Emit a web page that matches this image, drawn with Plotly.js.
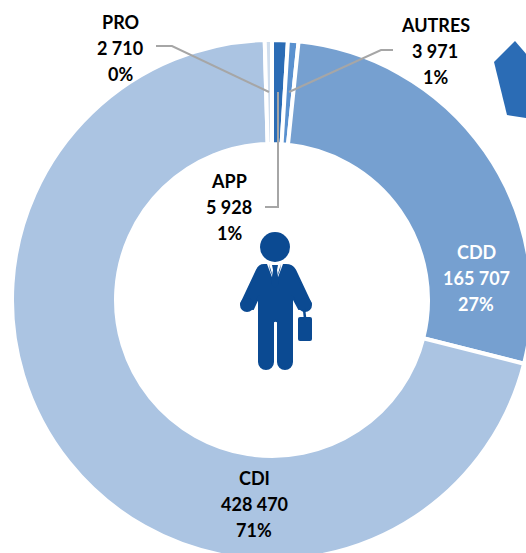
<!DOCTYPE html>
<html>
<head>
<meta charset="utf-8">
<script src="https://cdn.plot.ly/plotly-3.0.1.min.js"></script>
<style>html,body{margin:0;padding:0;background:#fff;width:526px;height:553px;overflow:hidden}#c{width:540px;height:560px}</style>
</head>
<body>
<div id="c"></div>
<script>
var categories = ["APP", "AUTRES", "CDD", "CDI", "PRO"];
var values = [5928, 3971, 165707, 428470, 2710];
var colors = ["#2b6cb5", "#5a91cf", "#76a0d0", "#abc4e2", "#cfdded"];
var textColors = ["#000000", "#000000", "#ffffff", "#000000", "#000000"];
var labelX = [229, 435, 476, 254, 120];
var labelY = [181, 25, 252, 478, 22];
var lineGap = 26;

var W = 540, H = 560;
var cx = 272, cy = 300, R = 260;
function px(x){ return x / W; }
function py(y){ return 1 - y / H; }
function fmt(v){ return String(v).replace(/\B(?=(\d{3})+$)/g, " "); }
var total = values.reduce(function(a,b){ return a+b; }, 0);

var annotations = [];
categories.forEach(function(c, i){
  [c, fmt(values[i]), Math.round(values[i] / total * 100) + "%"].forEach(function(t, k){
    annotations.push({
      text: t, xref: "paper", yref: "paper", showarrow: false,
      x: px(labelX[i]), y: py(labelY[i] + k * lineGap),
      xanchor: "center", yanchor: "middle",
      font: {family: "Lato, Carlito, sans-serif", size: 18, color: textColors[i], weight: 700}
    });
  });
});

function leader(pts){
  return {
    type: "path", xref: "paper", yref: "paper",
    path: pts.map(function(p, i){ return (i ? "L" : "M") + px(p[0]) + " " + py(p[1]); }).join(" "),
    line: {color: "#a6a6a6", width: 2}
  };
}
var shapes = [
  leader([[156,46],[172,46],[269,92]]),
  leader([[393,50],[381,50],[289,92]]),
  leader([[278,92],[278,207],[265,207]]),
  {type: "path", xref: "paper", yref: "paper", layer: "below",
   path: [[515,41],[494,62],[507,115],[540,120],[540,70]].map(function(p,i){ return (i?"L":"M")+px(p[0])+" "+py(p[1]); }).join(" ") + " Z",
   fillcolor: "#2b6cb5", line: {width: 0}}
];

var B = "#0b4a92";
var icon = '<svg xmlns="http://www.w3.org/2000/svg" width="85" height="155" viewBox="235 225 85 155">' +
  '<circle cx="275" cy="247" r="15" fill="'+B+'"/>' +
  '<path d="M264 265 Q259 265 257 270 L241 304 L253 309 L259 296 L259 362 a7 7 0 0 0 14 0 L273 322 a3 3 0 0 1 5 0 L278 362 a7 7 0 0 0 14 0 L292 296 L299 309 L311 304 L295 270 Q292 265 286 265 Z" fill="'+B+'" stroke="'+B+'" stroke-linejoin="round" stroke-width="2"/>' +
  '<circle cx="247" cy="305" r="7" fill="'+B+'"/>' +
  '<circle cx="305" cy="305" r="7" fill="'+B+'"/>' +
  '<path d="M267 264 L275 285 L283 264 Z" fill="#fff"/>' +
  '<path d="M269 264 L274 280 L270 270 Z M281 264 L276 280 L280 270 Z" fill="'+B+'"/>' +
  '<path d="M272 265 L278 265 L277 270 L279 284 L275 288 L271 284 L273 270 Z" fill="'+B+'"/>' +
  '<path d="M304 309 L305 318" stroke="'+B+'" stroke-width="2.5" fill="none"/>' +
  '<rect x="298" y="317" width="14" height="24" rx="2" fill="'+B+'"/>' +
  '</svg>';

Plotly.newPlot("c", [{
  type: "pie",
  labels: categories,
  values: values,
  sort: false,
  direction: "clockwise",
  rotation: 0,
  hole: 0.6,
  textinfo: "none",
  hoverinfo: "label+value+percent",
  marker: {colors: colors, line: {color: "#ffffff", width: 4}},
  domain: {x: [px(cx - R), px(cx + R)], y: [py(cy + R), py(cy - R)]}
}], {
  width: W, height: H,
  margin: {l: 0, r: 0, t: 0, b: 0, pad: 0, autoexpand: false},
  showlegend: false,
  paper_bgcolor: "#ffffff",
  annotations: annotations,
  shapes: shapes,
  images: [{
    source: "data:image/svg+xml;charset=utf-8," + encodeURIComponent(icon),
    xref: "paper", yref: "paper",
    x: px(235), y: py(225), sizex: 85 / W, sizey: 155 / H,
    xanchor: "left", yanchor: "top", sizing: "stretch", layer: "above"
  }]
}, {displayModeBar: false, staticPlot: true});
</script>
</body>
</html>
